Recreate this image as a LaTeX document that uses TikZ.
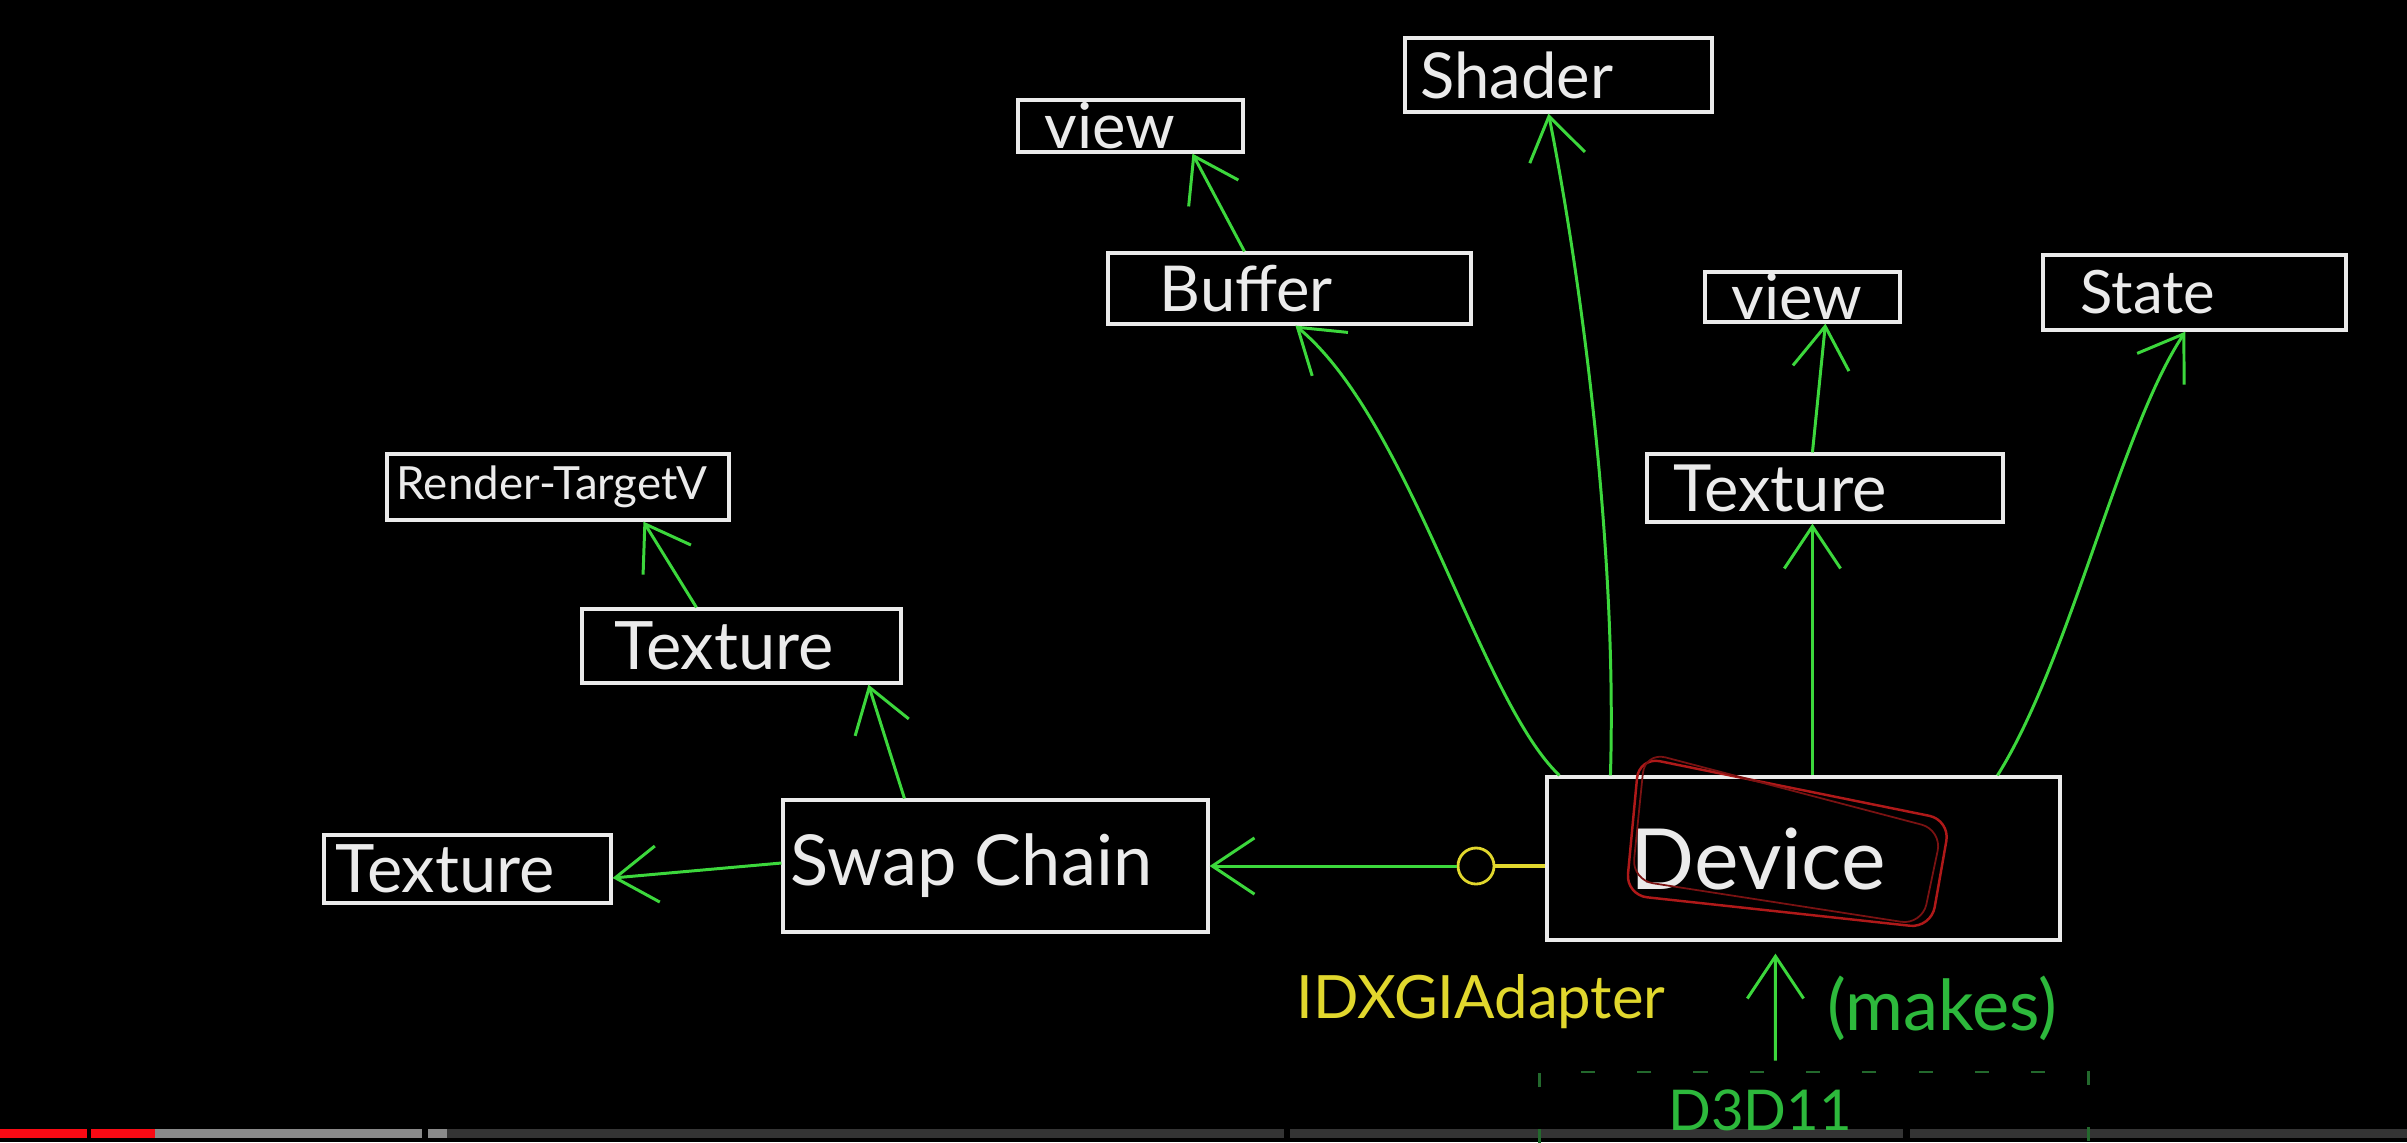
\documentclass[tikz,border=0pt]{standalone}
\usepackage{fontspec}
\setmainfont{Lato}
\usetikzlibrary{calc,arrows.meta,positioning}

\definecolor{chalk}{RGB}{235,235,235}
\definecolor{pengreen}{RGB}{60,215,60}
\definecolor{textgreen}{RGB}{45,185,60}
\definecolor{penyellow}{RGB}{225,215,45}
\definecolor{penred}{RGB}{175,25,25}
\definecolor{framegreen}{RGB}{35,105,45}
\definecolor{barred}{RGB}{250,10,20}
\definecolor{barlight}{RGB}{138,138,138}
\definecolor{bardark}{RGB}{52,52,52}

\begin{document}
\begin{tikzpicture}[x=0.01cm, y=-0.01cm,
    box/.style={rectangle, draw=chalk, line width=0.9pt, inner sep=0pt},
    lbl/.style={text=chalk, anchor=west, inner sep=0pt},
    plug/.style={circle, draw=penyellow, line width=0.8pt, minimum size=0.36cm, inner sep=0pt},
    link/.style={draw=pengreen, line width=0.85pt, -{Straight Barb[length=12pt,width=16pt]}}
    ]
    \fill[black] (0,0) rectangle (2407,1142);
    \useasboundingbox (0,0) rectangle (2407,1142);

    % boxes: name/centre x/centre y/width/height/text x/font size/text
    \foreach \nm/\cx/\cy/\w/\h/\tx/\fs/\txt in {
        shader/1558.5/75/307/74/1420/18/Shader,
        viewL/1130.5/126/225/52/1044/18/view,
        buffer/1289.5/288.5/363/71/1159/18/Buffer,
        viewR/1802.5/297/195/50/1731/18/view,
        state/2194.5/292.5/303/75/2080/17/State,
        texR/1825/488/356/68/1673/18.5/Texture,
        rtv/558/487/342/66/396/13/Render-TargetV,
        texM/741.5/646/319/74/614/19/Texture,
        swap/995.5/866/425/132/790/20/Swap Chain,
        texL/467.5/869/287/68/335/19/Texture,
        device/1803.5/858.5/513/163/1630/24/Device} {
        \node[box, minimum width=\w*0.01cm, minimum height=\h*0.01cm] (\nm) at (\cx,\cy) {};
        \node[lbl, font=\fontsize{\fs}{\fs}\selectfont] (\nm-t) at (\tx,\cy) {\txt};
    }

    % red scribble round the device
    \draw[penred, line width=0.7pt, rounded corners=6pt]
        (1639,757) -- (1950,820) -- (1931,928) -- (1626,895) -- cycle;
    \draw[penred!70!black, line width=0.5pt, rounded corners=6pt]
        (1645,752) -- (1942,830) -- (1922,925) -- (1632,880) -- cycle;

    \node[plug] (plug) at (1476,866) {};
    \draw[penyellow, line width=1.2pt] (plug.east) -- (plug.east -| device.west);

    \path[every edge/.style={link}]
    (plug.west) edge (swap.east)
    ($(swap.west)+(0,-3)$) edge ($(texL.east)+(0,9)$)
    ($(swap.north west)+(123,0)$) edge ($(texM.south west)+(288,0)$)
    ($(texM.north west)+(116,0)$) edge ($(rtv.south west)+(258,0)$)
    ($(buffer.north west)+(138,0)$) edge ($(viewL.south west)+(176,0)$)
    ($(device.north west)+(267,0)$) edge ($(texR.south west)+(167,0)$)
    ($(texR.north west)+(167,0)$) edge ($(viewR.south west)+(122,0)$)
    ;

    \draw[link] ($(device.north west)+(14,0)$) .. controls (1480,700) and (1410,420) .. ($(buffer.south west)+(189,0)$);
    \draw[link] ($(device.north west)+(65,0)$) .. controls (1618,520) and (1572,230) .. ($(shader.south west)+(145,0)$);
    \draw[link] ($(device.north west)+(452,0)$) .. controls (2070,660) and (2120,430) .. ($(state.south west)+(144,0)$);

    \node[text=penyellow, font=\fontsize{17}{17}\selectfont] (adapter) at (1481,1002) {IDXGIAdapter};
    \node[text=textgreen, font=\fontsize{20}{20}\selectfont] (makes) at (1942,1008) {(makes)};

    % player bar
    \foreach \a/\b/\c in {0/87/barred, 91/155/barred, 155/422/barlight, 428/447/barlight,
        447/1284/bardark, 1290/1903/bardark, 1910/2407/bardark}
        \fill[\c] (\a,1129) rectangle (\b,1138);

    \node[draw=framegreen, dash pattern=on 4pt off 12pt, line width=0.8pt,
        minimum width=5.48cm, minimum height=1.4cm] (d3dframe) at (1814,1142) {};
    \node[text=textgreen, font=\fontsize{16}{16}\selectfont, inner sep=0pt] (d3d) at (1760,1110) {D3D11};
    \draw[link] ($(d3dframe.north west)+(237,-10)$) -- ($(device.south west)+(230,12)$);
\end{tikzpicture}
\end{document}
